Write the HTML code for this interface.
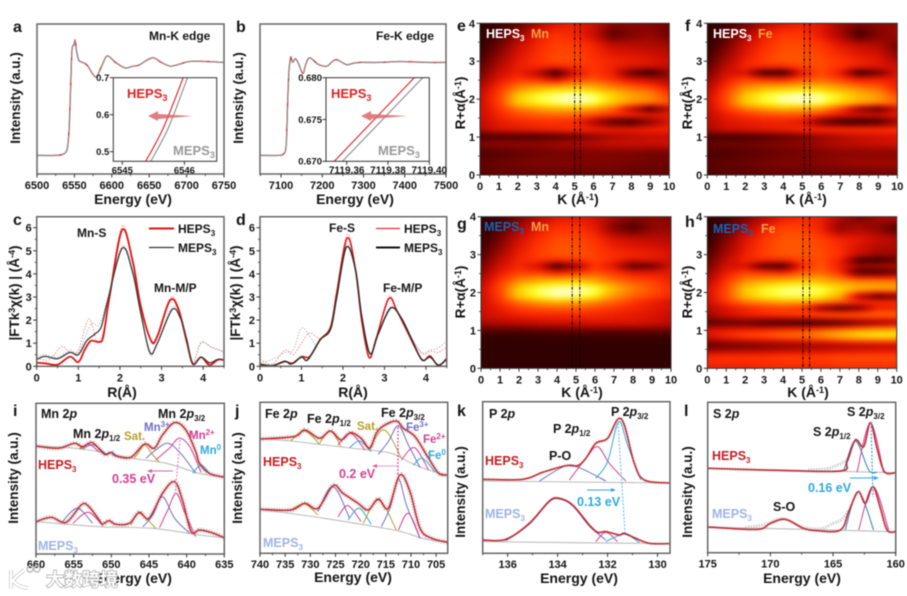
<!DOCTYPE html>
<html><head><meta charset="utf-8"><title>XAS, EXAFS, wavelet and XPS figure</title>
<style>
html,body{margin:0;padding:0;background:#fff;width:907px;height:596px;overflow:hidden}
svg{display:block;filter:blur(.5px)}
text{font-family:"Liberation Sans","Noto Sans CJK SC",sans-serif;font-weight:bold;fill:#151515}
.tick{font-size:11px}
.ti{font-size:14px}
.yt{font-size:13.5px;text-anchor:middle}
.p{font-size:16px}
.n{font-size:12px}
.s{font-size:8px}
.l{font-size:12.5px}
</style></head>
<body>
<svg xmlns="http://www.w3.org/2000/svg" width="907" height="596" viewBox="0 0 907 596">
<defs>
<filter id="heatBlur" x="-5%" y="-5%" width="110%" height="110%" color-interpolation-filters="sRGB"><feGaussianBlur stdDeviation="2.4"/></filter>
</defs>
<g id="marks"></g>

<g>
<text class="p" x="13" y="32">a</text>
<text class="p" x="236" y="32">b</text>
<text class="p" x="13" y="225">c</text>
<text class="p" x="236" y="225">d</text>
<text class="p" x="457" y="31">e</text>
<text class="p" x="685" y="31">f</text>
<text class="p" x="457" y="229">g</text>
<text class="p" x="685" y="227">h</text>
<text class="p" x="13" y="416">i</text>
<text class="p" x="235" y="416">j</text>
<text class="p" x="457" y="416">k</text>
<text class="p" x="684" y="416">l</text>
</g>

<g>
<text class="yt" transform="translate(20,98) rotate(-90)">Intensity (a.u.)</text>
<text class="yt" transform="translate(243,98) rotate(-90)">Intensity (a.u.)</text>
<text class="ti" x="133" y="204" text-anchor="middle">Energy (eV)</text>
<text class="ti" x="355" y="204" text-anchor="middle">Energy (eV)</text>
<text class="yt" transform="translate(19,293) rotate(-90)">|FTk<tspan dy="-4" font-size="9">3</tspan><tspan dy="4">χ(k) | (Å</tspan><tspan dy="-4" font-size="9">-4</tspan><tspan dy="4">)</tspan></text>
<text class="yt" transform="translate(240,293) rotate(-90)">|FTk<tspan dy="-4" font-size="9">3</tspan><tspan dy="4">χ(k) | (Å</tspan><tspan dy="-4" font-size="9">-4</tspan><tspan dy="4">)</tspan></text>
<text class="ti" x="122" y="397" text-anchor="middle">R(Å)</text>
<text class="ti" x="353" y="397" text-anchor="middle">R(Å)</text>
<text class="yt" transform="translate(465,103) rotate(-90)">R+α(Å<tspan dy="-4" font-size="9">-1</tspan><tspan dy="4">)</tspan></text>
<text class="yt" transform="translate(692,103) rotate(-90)">R+α(Å<tspan dy="-4" font-size="9">-1</tspan><tspan dy="4">)</tspan></text>
<text class="yt" transform="translate(465,292) rotate(-90)">R+α(Å<tspan dy="-4" font-size="9">-1</tspan><tspan dy="4">)</tspan></text>
<text class="yt" transform="translate(692,292) rotate(-90)">R+α(Å<tspan dy="-4" font-size="9">-1</tspan><tspan dy="4">)</tspan></text>
<text class="ti" x="578" y="204" text-anchor="middle">K (Å<tspan dy="-4" font-size="9">-1</tspan><tspan dy="4">)</tspan></text>
<text class="ti" x="806" y="204" text-anchor="middle">K (Å<tspan dy="-4" font-size="9">-1</tspan><tspan dy="4">)</tspan></text>
<text class="ti" x="582" y="397" text-anchor="middle">K (Å<tspan dy="-4" font-size="9">-1</tspan><tspan dy="4">)</tspan></text>
<text class="ti" x="808" y="397" text-anchor="middle">K (Å<tspan dy="-4" font-size="9">-1</tspan><tspan dy="4">)</tspan></text>
<text class="yt" transform="translate(18,478) rotate(-90)">Intensity (a.u.)</text>
<text class="yt" transform="translate(242,478) rotate(-90)">Intensity (a.u.)</text>
<text class="yt" transform="translate(465,492) rotate(-90)">Intensity (a.u.)</text>
<text class="yt" transform="translate(692,492) rotate(-90)">Intensity (a.u.)</text>
<text class="ti" x="133" y="583" text-anchor="middle">Energy (eV)</text>
<text class="ti" x="353" y="582" text-anchor="middle">Energy (eV)</text>
<text class="ti" x="579" y="583" text-anchor="middle">Energy (eV)</text>
<text class="ti" x="802" y="583" text-anchor="middle">Energy (eV)</text>
</g>

<g>
<text class="n" x="149" y="40">Mn-K edge</text>
<text class="n" x="376" y="40">Fe-K edge</text>
<text x="127" y="98" font-size="13" style="fill:#e02020">HEPS<tspan dy="3" font-size="9" style="fill:#e02020">3</tspan></text>
<text x="173" y="155" font-size="13" style="fill:#999">MEPS<tspan dy="3" font-size="9" style="fill:#999">3</tspan></text>
<text x="331" y="98" font-size="13" style="fill:#e02020">HEPS<tspan dy="3" font-size="9" style="fill:#e02020">3</tspan></text>
<text x="378" y="155" font-size="13" style="fill:#999">MEPS<tspan dy="3" font-size="9" style="fill:#999">3</tspan></text>
<polygon points="148,116 158,111 158,114 193,116 158,119 158,121" fill="#d9696b" opacity=".85"/>
<polygon points="361,116 371,111 371,114 407,116 371,119 371,121" fill="#d9696b" opacity=".85"/>
<line x1="149" x2="174" y1="228.5" y2="228.5" stroke="#e01515" stroke-width="2"/>
<text class="n" x="178" y="233">HEPS<tspan class="s" dy="3">3</tspan></text>
<line x1="149" x2="174" y1="247.5" y2="247.5" stroke="#333" stroke-width="1.3"/>
<text class="n" x="178" y="252">MEPS<tspan class="s" dy="3">3</tspan></text>
<line x1="376" x2="400" y1="228.5" y2="228.5" stroke="#e03030" stroke-width="1.2"/>
<text class="n" x="404" y="233">HEPS<tspan class="s" dy="3">3</tspan></text>
<line x1="376" x2="400" y1="247.5" y2="247.5" stroke="#111" stroke-width="2"/>
<text class="n" x="404" y="252">MEPS<tspan class="s" dy="3">3</tspan></text>
<text class="n" x="77" y="237">Mn-S</text>
<text class="n" x="154" y="292">Mn-M/P</text>
<text class="n" x="329" y="232">Fe-S</text>
<text class="n" x="383" y="292">Fe-M/P</text>
</g>

<g>
<text x="486" y="38" font-size="12.5" style="fill:#fff">HEPS<tspan dy="3" font-size="8" style="fill:#fff">3</tspan></text>
<text x="531" y="38" font-size="12.5" style="fill:#f2a044">Mn</text>
<text x="713" y="38" font-size="12.5" style="fill:#fff">HEPS<tspan dy="3" font-size="8" style="fill:#fff">3</tspan></text>
<text x="758" y="38" font-size="12.5" style="fill:#f2a044">Fe</text>
<text x="484" y="231" font-size="12.5" style="fill:#1763b4">MEPS<tspan dy="3" font-size="8" style="fill:#1763b4">3</tspan></text>
<text x="531" y="231" font-size="12.5" style="fill:#f2a044">Mn</text>
<text x="713" y="233" font-size="12.5" style="fill:#1763b4">MEPS<tspan dy="3" font-size="8" style="fill:#1763b4">3</tspan></text>
<text x="761" y="233" font-size="12.5" style="fill:#f2a044">Fe</text>
</g>

<g>
<text class="l" x="41" y="418">Mn 2<tspan font-style="italic">p</tspan></text>
<text class="l" x="158" y="418">Mn 2<tspan font-style="italic">p</tspan><tspan class="s" dy="3">3/2</tspan></text>
<text class="l" x="73" y="438">Mn 2<tspan font-style="italic">p</tspan><tspan class="s" dy="3">1/2</tspan></text>
<text x="124" y="440" font-size="11.5" style="fill:#b5a02c">Sat.</text>
<text x="144" y="431" font-size="11.5" style="fill:#6f70c0">Mn<tspan dy="-4" font-size="8" style="fill:#6f70c0">3+</tspan></text>
<text x="189" y="439" font-size="11.5" style="fill:#d2408f">Mn<tspan dy="-4" font-size="8" style="fill:#d2408f">2+</tspan></text>
<text x="200" y="454" font-size="11.5" style="fill:#30a8e0">Mn<tspan dy="-4" font-size="8" style="fill:#30a8e0">0</tspan></text>
<text x="38" y="469" font-size="12.5" style="fill:#c41e22">HEPS<tspan dy="3" font-size="8" style="fill:#c41e22">3</tspan></text>
<text x="38" y="550" font-size="12.5" style="fill:#9fb4e2">MEPS<tspan dy="3" font-size="8" style="fill:#9fb4e2">3</tspan></text>
<text x="112" y="483" font-size="12.5" style="fill:#d2408f">0.35 eV</text>
<line x1="173" x2="150" y1="471" y2="471" stroke="#e0609f"/>
<polygon points="147,471 152,469 152,473" fill="#e0609f"/>
<line x1="180" y1="440" x2="175" y2="495" stroke="#e070a8" stroke-dasharray="2 1.5"/>

<text class="l" x="265" y="418">Fe 2<tspan font-style="italic">p</tspan></text>
<text class="l" x="381" y="417">Fe 2<tspan font-style="italic">p</tspan><tspan class="s" dy="3">3/2</tspan></text>
<text class="l" x="307" y="423">Fe 2<tspan font-style="italic">p</tspan><tspan class="s" dy="3">1/2</tspan></text>
<text x="357" y="430" font-size="11.5" style="fill:#b5a02c">Sat.</text>
<text x="406" y="431" font-size="11.5" style="fill:#6f70c0">Fe<tspan dy="-4" font-size="8" style="fill:#6f70c0">3+</tspan></text>
<text x="423" y="443" font-size="11.5" style="fill:#d2408f">Fe<tspan dy="-4" font-size="8" style="fill:#d2408f">2+</tspan></text>
<text x="428" y="459" font-size="11.5" style="fill:#30a8e0">Fe<tspan dy="-4" font-size="8" style="fill:#30a8e0">0</tspan></text>
<text x="263" y="466" font-size="12.5" style="fill:#c41e22">HEPS<tspan dy="3" font-size="8" style="fill:#c41e22">3</tspan></text>
<text x="263" y="547" font-size="12.5" style="fill:#9fb4e2">MEPS<tspan dy="3" font-size="8" style="fill:#9fb4e2">3</tspan></text>
<text x="339" y="478" font-size="12.5" style="fill:#d2408f">0.2 eV</text>
<line x1="398" x2="375" y1="466" y2="466" stroke="#e8a0c8"/>
<polygon points="372,466 377,464 377,468" fill="#e0609f"/>
<line x1="398" y1="427" x2="398" y2="475" stroke="#d2408f" stroke-dasharray="2 1.5" stroke-width="1.2"/>

<text class="l" x="489" y="418">P 2<tspan font-style="italic">p</tspan></text>
<text class="l" x="611" y="416">P 2<tspan font-style="italic">p</tspan><tspan class="s" dy="3">3/2</tspan></text>
<text class="l" x="553" y="433">P 2<tspan font-style="italic">p</tspan><tspan class="s" dy="3">1/2</tspan></text>
<text class="l" x="549" y="460">P-O</text>
<text x="485" y="465" font-size="12.5" style="fill:#c41e22">HEPS<tspan dy="3" font-size="8" style="fill:#c41e22">3</tspan></text>
<text x="485" y="518" font-size="12.5" style="fill:#9fb4e2">MEPS<tspan dy="3" font-size="8" style="fill:#9fb4e2">3</tspan></text>
<text x="577" y="506" font-size="12.5" style="fill:#30a8e0">0.13 eV</text>
<line x1="587" x2="613" y1="490" y2="490" stroke="#30a8e0"/>
<polygon points="616,490 611,488 611,492" fill="#30a8e0"/>
<line x1="618" y1="423" x2="625" y2="533" stroke="#60bfe8" stroke-dasharray="2 1.5" stroke-width="1.1"/>

<text class="l" x="713" y="418">S 2<tspan font-style="italic">p</tspan></text>
<text class="l" x="847" y="416">S 2<tspan font-style="italic">p</tspan><tspan class="s" dy="3">3/2</tspan></text>
<text class="l" x="813" y="436">S 2<tspan font-style="italic">p</tspan><tspan class="s" dy="3">1/2</tspan></text>
<text class="l" x="773" y="511">S-O</text>
<text x="712" y="460" font-size="12.5" style="fill:#c41e22">HEPS<tspan dy="3" font-size="8" style="fill:#c41e22">3</tspan></text>
<text x="712" y="518" font-size="12.5" style="fill:#9fb4e2">MEPS<tspan dy="3" font-size="8" style="fill:#9fb4e2">3</tspan></text>
<text x="808" y="492" font-size="12.5" style="fill:#30a8e0">0.16 eV</text>
<line x1="850" x2="876" y1="478" y2="478" stroke="#30a8e0"/>
<polygon points="879,478 874,476 874,480" fill="#30a8e0"/>
<line x1="871" y1="423" x2="873" y2="497" stroke="#30a8e0" stroke-dasharray="2 1.5" stroke-width="1.2"/>
</g>

<g>
<path d="M11 570 V589 M24 570 Q14 578 13 581 Q18 587 28 588" fill="none" stroke="#aaa" stroke-width="3.6"/>
<path d="M11 570 V589 M24 570 Q14 578 13 581 Q18 587 28 588" fill="none" stroke="#fff" stroke-width="2.6"/>
<circle cx="30" cy="569" r="3" fill="none" stroke="#bbb" stroke-width="1.4"/>
<circle cx="37" cy="569" r="3" fill="none" stroke="#bbb" stroke-width="1.4"/>
<text x="46" y="586" font-size="18" style="font-family:'Noto Sans CJK SC',sans-serif;fill:#fff;stroke:#999;stroke-width:1.2;paint-order:stroke">大数跨境</text>
</g>
</svg>

<script>
/* ---------- tick arrays ---------- */
const aXTicks=[6500,6550,6600,6650,6700,6750];
const bXTicks=[7100,7200,7300,7400,7500];
const rXTicks=[0,1,2,3,4];
const ftYTicks=[0,1,2,3,4,5,6];
const kXTicks=[0,1,2,3,4,5,6,7,8,9,10];
const rYTicks=[0,1,2,3,4];
const iXTicks=[660,655,650,645,640,635];
const jXTicks=[740,735,730,725,720,715,710,705];
const kpXTicks=[136,134,132,130];
const lXTicks=[175,170,165,160];
const aInsetXTicks=[6545,6546];
const aInsetYTicks=[0.5,0.6,0.7];
const bInsetXTicks=[7119.36,7119.38,7119.40];
const bInsetYTicks=[0.670,0.675,0.680];

/* ---------- XANES ---------- */
const aMn=[[6500,0],[6525,0],[6534,0.01],[6539,0.04],[6541,0.1],[6543,0.3],[6545,0.75],[6546.5,1.1],[6548,1.18],[6549.5,1.19],[6551,1.24],[6553,1.12],[6556,1.02],[6561,1.0],[6567,0.97],[6575,0.87],[6580,0.85],[6587,0.97],[6594,1.07],[6605,1.0],[6618,0.94],[6628,0.96],[6636,0.97],[6654,1.05],[6666,1.0],[6678,0.96],[6690,0.98],[6704,1.01],[6725,1.01],[6750,1.0]];
const bFe=[[7050,0],[7095,0],[7104,0.01],[7110,0.04],[7113,0.15],[7116,0.55],[7119,0.9],[7122,1.02],[7124,1.06],[7128,1.0],[7135,1.04],[7143,0.98],[7153,0.88],[7160,0.98],[7170,1.05],[7190,0.98],[7211,0.96],[7222,1.0],[7234,1.03],[7248,1.0],[7260,0.975],[7275,0.99],[7292,1.0],[7340,1.0],[7390,1.01],[7450,1.0],[7500,1.0]];
const aInsetHeps=[[6545.377,0.474],[6545.66,0.564],[6545.98,0.70]];
const aInsetMeps=[[6545.458,0.474],[6545.74,0.564],[6546.05,0.70]];
const bInsetHeps=[[7119.354,0.670],[7119.3927,0.680]];
const bInsetMeps=[[7119.358,0.670],[7119.3968,0.680]];

/* ---------- EXAFS ---------- */
const cHeps=[[0,.15],[.2,.13],[.5,.07],[.8,.42],[1,.18],[1.15,.7],[1.3,1.1],[1.5,1.05],[1.6,1.3],[1.75,3],[2.05,5.9],[2.3,4.6],[2.5,2.6],[2.75,1.1],[2.9,1.3],[3.2,2.85],[3.4,2.5],[3.6,1.1],[3.75,.1],[3.95,.4],[4.15,.05],[4.35,.28],[4.5,.27]];
const cMeps=[[0,.3],[.2,.43],[.5,.33],[.8,.6],[1,.5],[1.2,1.1],[1.4,1.4],[1.55,1.7],[1.7,2.8],[2.05,5.1],[2.3,4.1],[2.5,2.3],[2.72,.6],[2.9,1],[3.25,2.45],[3.45,2.1],[3.6,1.2],[3.75,.12],[3.95,.4],[4.15,.15],[4.35,.3],[4.5,.27]];
const cHepsFit=[[0,.35],[.3,.3],[.6,.85],[.8,.6],[1,.7],[1.25,2.05],[1.45,1.1],[1.6,1.5],[1.75,3.1],[2.05,6.05],[2.3,4.7],[2.5,2.7],[2.75,1.15],[2.9,1.4],[3.2,2.95],[3.4,2.6],[3.6,1.2],[3.75,.15],[3.95,1],[4.2,.85],[4.5,.6]];
const cMepsFit=[[0,.4],[.2,.5],[.5,.4],[.8,.7],[1,.6],[1.3,1.8],[1.5,1.8],[1.7,2.9],[2.05,5.2],[2.3,4.2],[2.5,2.4],[2.72,.5],[2.9,1.05],[3.25,2.55],[3.45,2.2],[3.6,1.25],[3.75,.15],[3.95,1.05],[4.2,.8],[4.5,.65]];
const dHeps=[[0,.05],[.3,.02],[.6,.2],[.8,.13],[1,.42],[1.2,.42],[1.45,1.15],[1.7,1.7],[1.85,3.2],[2.1,5.55],[2.3,4.2],[2.45,2],[2.63,.38],[2.8,1.2],[3.1,2.92],[3.3,2.4],[3.55,1.5],[3.9,.3],[4.1,.45],[4.3,.02],[4.5,.35]];
const dMeps=[[0,.1],[.3,.03],[.6,.22],[.75,.1],[1,.4],[1.15,.28],[1.45,1.15],[1.7,1.6],[1.85,3],[2.08,5.15],[2.3,4.2],[2.45,2.2],[2.65,.55],[2.85,1.4],[3.15,2.52],[3.4,2.1],[3.65,1.2],[3.9,.28],[4.1,.4],[4.3,.05],[4.5,.3]];
const dHepsFit=[[0,.3],[.3,.1],[.6,.7],[.8,.5],[1,1],[1.2,1.45],[1.45,1.2],[1.7,1.7],[1.85,3.3],[2.1,5.7],[2.3,4.3],[2.45,2.1],[2.63,.4],[2.8,1.25],[3.1,3],[3.3,2.45],[3.55,1.5],[3.9,.55],[4.1,.65],[4.3,.6],[4.5,.85]];
const dMepsFit=[[0,.15],[.3,.3],[.6,.6],[.8,.7],[1,1.65],[1.2,1.3],[1.35,.9],[1.45,1.2],[1.7,1.6],[1.85,3],[2.08,5.25],[2.3,4.3],[2.45,2.3],[2.65,.5],[2.85,1.45],[3.15,2.6],[3.4,2.15],[3.65,1.25],[3.9,.6],[4.1,.7],[4.3,.8],[4.5,1.1]];

/* ---------- wavelet grids: intensity percent, rows by heatRows, columns by kXTicks ---------- */
const heatRows=[4,3.7,3.4,3,2.85,2.7,2.55,2.3,2.1,1.9,1.75,1.6,1.4,1.2,1,.85,.6,.3,0];
const heatE=[[8,12,20,35,45,50,42,30,30,28,25],[10,18,32,48,55,52,42,20,28,32,24],[12,25,42,52,58,58,52,42,40,38,35],[18,35,48,55,60,60,55,52,50,48,42],[22,38,50,52,50,54,56,50,45,42,40],[25,42,50,40,12,45,56,50,22,10,32],[30,46,54,50,38,54,60,52,42,38,34],[38,54,70,78,82,84,80,72,66,60,48],[42,58,84,93,97,99,96,87,78,73,58],[42,58,84,91,95,97,95,84,74,68,62],[42,55,68,76,80,80,76,64,38,14,38],[42,52,60,64,66,66,62,58,55,50,50],[40,48,52,54,54,52,34,16,12,28,45],[38,46,48,50,52,54,52,50,50,52,52],[14,14,14,14,16,20,28,34,38,40,40],[30,33,33,33,36,38,40,44,44,44,46],[18,20,22,24,26,26,28,28,28,26,26],[22,24,26,28,28,28,28,28,26,25,24],[20,22,22,22,22,22,22,22,22,22,22]];
const heatF=[[8,14,25,38,46,50,46,35,28,30,32],[10,20,35,50,56,56,48,35,16,28,34],[12,26,44,54,60,60,56,48,42,38,25],[18,36,50,58,62,62,60,56,52,48,36],[22,40,52,52,52,58,60,55,48,46,44],[26,44,44,12,12,48,60,48,12,22,46],[30,48,56,50,48,58,62,56,46,48,48],[38,56,72,80,82,84,82,76,70,64,50],[42,60,84,93,97,99,97,90,82,76,60],[42,60,84,91,96,97,95,86,78,72,65],[42,56,68,76,80,78,74,58,28,18,42],[40,50,56,60,62,62,58,50,48,46,50],[38,46,48,50,50,46,22,12,10,14,32],[36,44,46,48,50,54,56,56,56,56,56],[14,14,14,16,20,24,30,36,40,42,44],[24,26,26,28,30,32,36,40,42,44,46],[18,18,20,22,24,26,28,30,30,30,30],[20,22,24,26,28,28,30,32,34,34,34],[18,20,20,22,22,22,22,22,22,24,24]];
const heatG=[[8,14,25,38,46,48,44,35,30,32,30],[10,20,35,48,55,55,48,28,18,30,32],[12,26,44,54,60,60,55,46,42,40,38],[18,36,50,58,62,62,58,54,52,50,46],[22,40,52,54,52,55,58,52,45,46,44],[26,44,52,44,14,32,55,45,18,22,44],[30,48,56,54,46,52,60,54,46,46,48],[38,56,72,80,84,84,78,68,62,58,50],[42,60,86,95,98,99,96,82,70,62,54],[42,58,84,93,97,96,90,74,64,58,52],[42,54,68,76,80,78,72,64,56,50,44],[42,50,58,62,64,64,60,56,52,48,46],[42,46,50,52,52,52,52,50,48,46,40],[36,38,40,42,44,44,46,46,46,44,40],[20,20,20,22,22,24,24,24,24,24,24],[12,12,12,13,14,14,14,14,14,14,14],[10,10,10,10,10,10,10,10,10,10,10],[10,10,10,10,10,10,10,10,10,10,10],[10,10,10,10,10,10,10,10,10,10,10]];
const heatH=[[8,14,25,38,48,52,50,38,26,35,40],[10,20,36,50,58,58,50,30,36,30,18],[12,28,46,56,62,62,58,52,48,42,38],[18,36,50,58,62,62,60,55,42,34,34],[22,40,52,52,52,58,60,50,16,12,22],[26,44,44,16,14,52,62,50,36,38,40],[30,48,56,52,48,60,64,52,16,14,22],[38,56,72,78,82,84,80,74,70,70,68],[44,60,84,92,96,97,95,88,82,80,80],[44,60,82,90,94,94,90,78,36,18,24],[42,56,68,74,78,78,72,64,56,54,54],[38,46,52,56,58,54,28,16,24,48,50],[34,44,50,54,56,60,66,68,68,68,66],[20,20,22,16,14,12,12,16,24,30,34],[46,50,52,54,58,60,66,72,78,82,84],[46,54,60,62,66,68,74,82,88,90,90],[20,22,24,26,28,30,32,34,36,38,38],[54,56,56,56,58,58,58,60,60,60,60],[50,50,50,52,52,52,52,54,54,54,54]];
const eGuides=[5.0,5.3];
const fGuides=[5.1,5.4];
const gGuides=[4.8,5.2];
const hGuides=[5.05,5.4];

/* ---------- XPS Mn 2p ---------- */
const iHepsFit=[[660,324],[657.1,317],[654.9,332],[653.8,322],[652.5,334],[650.9,299],[650,305],[649.4,294],[647.4,290],[645.6,330],[644.3,317],[643.2,357],[641.6,394],[640.1,372],[638.8,307],[638.3,272],[637,242],[635,230]];
const iHepsBg=[[660,324],[653.8,315],[647.2,287],[642.7,272],[638.3,242],[635,230]];
const iHepsSat1=[[656.5,317],[654.9,332],[653.6,312]];
const iHepsSat2=[[647,287],[646.5,300],[645.6,327],[644.6,300],[643.6,275]];
const iHepsMn3=[[653.8,317],[652.3,327],[650.7,299]];
const iHepsMn2=[[654.2,315],[653,329],[651.6,305]];
const iHepsMn0=[[650.9,297],[650,305],[649.2,294]];
const iHepsMn3b=[[645.4,287],[644.1,312],[642.5,332],[640.8,302],[638.8,242]];
const iHepsMn2b=[[644.1,282],[642.3,317],[641,347],[639.6,322],[638.1,245]];
const iHepsMn0b=[[639.2,242],[638.1,267],[637,242]];
const iMepsFit=[[660,97],[658,110],[656,95],[654,147],[653.1,145],[651.6,102],[651.2,89],[650.3,100],[649.4,89],[647.6,92],[646.3,125],[645,107],[643.2,182],[641.6,217],[640.5,157],[639.4,67],[638.3,72],[636.8,65],[635,49]];
const iMepsBg=[[660,97],[651.6,82],[644.5,77],[638.3,57],[635,49]];
const iMepsSat=[[647.4,87],[646.3,122],[644.1,77]];
const iMepsMn3=[[656.5,97],[654.5,137],[652.5,92]];
const iMepsMn2=[[655.1,92],[653.1,125],[651.2,87]];
const iMepsMn3b=[[645.8,82],[644.5,117],[643.2,172],[641.6,107],[639.6,62]];
const iMepsMn2b=[[643.6,79],[642.5,132],[641.4,182],[640.3,127],[638.8,52]];

/* ---------- XPS Fe 2p ---------- */
const jHepsFit=[[740,343],[733.2,350],[731.1,370],[728.2,345],[726,367],[723.9,340],[722,362],[719.9,345],[718.2,315],[716.9,360],[715.5,382],[712.9,397],[711.5,375],[709.2,350],[706.5,285],[704.5,240],[702.7,235]];
const jHepsBg=[[740,345],[733.9,337],[727.2,325],[718.5,310],[713.9,300],[709.9,270],[706.5,250],[702.7,235]];
const jHepsSat1=[[733.9,337],[731.1,367],[728.2,327]];
const jHepsSat2=[[728.2,330],[726,367],[723.9,320]];
const jHepsSat3=[[718.5,310],[715.3,370],[711.9,285]];
const jHepsFe2a=[[724.5,325],[722,360],[719.2,310]];
const jHepsFe0a=[[722.2,317],[720.2,337],[717.9,305]];
const jHepsFe3=[[716.5,297],[714.5,335],[712.5,383],[710.5,325],[708.2,257]];
const jHepsFe2=[[711.9,280],[709.3,317],[706.5,250]];
const jHepsFe0=[[709.5,265],[707.7,285],[705.2,243]];
const jMepsFit=[[740,132],[733.9,130],[731.1,150],[728.5,135],[725.5,203],[723.5,180],[720.5,150],[718.5,130],[716.5,163],[714.5,135],[712.2,235],[710.2,185],[708.2,75],[705.9,45],[702.7,33]];
const jMepsBg=[[740,132],[727.2,105],[717.2,80],[711.9,65],[707.2,43],[702.7,33]];
const jMepsSat1=[[733.9,130],[731.1,148],[728.5,115]];
const jMepsSat2=[[719.5,90],[716.4,160],[712.9,70]];
const jMepsFe3a=[[728.5,125],[725.5,200],[722.2,105]];
const jMepsFe2a=[[724.5,110],[722.5,143],[719.9,95]];
const jMepsFe0a=[[722.5,100],[720.3,135],[717.9,87]];
const jMepsFe3=[[715.9,80],[714.2,135],[712.5,222],[710.9,145],[708.2,45]];
const jMepsFe2=[[712.5,70],[710.5,120],[708.2,45]];

/* ---------- XPS P 2p ---------- */
const kHepsFit=[[137,222],[135.4,222],[134.6,243],[133.67,263],[133.2,263],[132.87,285],[132.47,330],[132,345],[131.6,402],[131.33,385],[130.93,270],[130.53,220],[129.53,211]];
const kHepsBg=[[137,217],[129.53,211]];
const kHepsPO=[[134.73,217],[133.67,263],[133.07,255],[132.07,217]];
const kHeps12=[[133.53,220],[132.87,285],[132.4,320],[131.93,270],[131.27,217]];
const kHeps32=[[132.47,225],[132,275],[131.56,395],[131.2,325],[130.67,220]];
const kMepsFit=[[137,40],[136.07,42],[135.13,90],[134.33,157],[133.93,165],[133.4,145],[132.73,85],[132.4,63],[132.07,65],[131.53,55],[131.33,60],[130.87,45],[130.33,30],[129.53,29]];
const kMepsBg=[[137,35],[129.53,29]];
const kMepsPO=[[136.07,38],[135.13,88],[134.33,155],[133.93,163],[133.4,143],[132.73,82],[132.07,40]];
const kMeps12=[[132.47,35],[132.07,63],[131.6,35]];
const kMeps32=[[132.07,35],[131.33,57],[130.73,33]];

/* ---------- XPS S 2p ---------- */
const lHepsRaw=[[167,249],[165.5,252],[164.7,262],[164.15,272],[163.8,282]];
const lHepsFit=[[175,253],[169.47,247],[164.41,245],[163.88,273],[163.22,338],[162.55,318],[162.02,390],[161.49,313],[160.9,243],[160,240]];
const lHepsBg=[[175,253],[160,240]];
const lHeps12=[[164.15,245],[163.22,335],[162.15,248],[161.49,241]];
const lHeps32=[[163.09,241],[162.02,388],[160.96,241]];
const lMepsRaw=[[172,76],[170.5,84],[169,103],[167.5,78],[166,72],[165,88],[164.3,100],[163.8,125]];
const lMepsFit=[[175,77],[171.06,70],[170,88],[168.8,100],[167.34,73],[166.28,66],[164.41,68],[163.75,123],[163,183],[162.42,148],[161.81,198],[161.22,133],[160.69,68],[160,63]];
const lMepsBg=[[175,77],[160,63]];
const lMeps12=[[164.02,68],[163,183],[161.76,68]];
const lMeps32=[[162.95,68],[161.81,198],[160.56,68]];

/* ---------- helpers ---------- */
const NS='http://www.w3.org/2000/svg';
const root=document.getElementById('marks');
function mk(parent,tag,attrs,name){
  const el=document.createElementNS(NS,tag);
  for(const k in attrs){el.setAttribute(k,attrs[k]);}
  
  
  parent.appendChild(el);
  return el;
}
function scale(d0,d1,r0,r1){return v=>r0+(v-d0)*(r1-r0)/(d1-d0);}
function pathOf(pts,sx,sy){
  const p=pts.map(q=>[sx(q[0]),sy(q[1])]);
  let d='M'+p[0][0].toFixed(1)+' '+p[0][1].toFixed(1);
  for(let i=0;i<p.length-1;i++){
    const a=p[Math.max(i-1,0)],b=p[i],c=p[i+1],e=p[Math.min(i+2,p.length-1)];
    const c1=[b[0]+(c[0]-a[0])/6,b[1]+(c[1]-a[1])/6];
    const c2=[c[0]-(e[0]-b[0])/6,c[1]-(e[1]-b[1])/6];
    d+='C'+c1[0].toFixed(1)+' '+c1[1].toFixed(1)+' '+c2[0].toFixed(1)+' '+c2[1].toFixed(1)+' '+c[0].toFixed(1)+' '+c[1].toFixed(1);
  }
  return d;
}
function line(pn,pts,stroke,width,name,dash,op){
  const a={d:pathOf(pts,pn.x,pn.y),fill:'none',stroke:stroke,'stroke-width':width,'stroke-linejoin':'round'};
  if(dash){a['stroke-dasharray']=dash;}
  if(op){a.opacity=op;}
  return mk(pn.g,'path',a,name);
}
function panel(name,box,xd,yd){
  const g=mk(root,'g',{},name);
  const x=scale(xd[0],xd[1],box[0],box[2]);
  const y=scale(yd[0],yd[1],box[3],box[1]);
  return {g:g,x:x,y:y,box:box,xd:xd,yd:yd,name:name};
}
function minors(ticks,dom){
  const out=[];
  if(ticks.length<2)return out;
  const st=ticks[1]-ticks[0];
  const lo=Math.min(dom[0],dom[1]),hi=Math.max(dom[0],dom[1]);
  for(let i=-3;i<ticks.length+3;i++){
    const v=ticks[0]+st*(i+.5);
    if(v>=lo-1e-9&&v<=hi+1e-9)out.push(v);
  }
  return out;
}
function axes(pn,xt,yt,o){
  o=o||{};
  const b=pn.box,col=o.col||'#666',tc=o.tc||'#333',fs=o.fs||11,fsx=o.fsx||fs;
  mk(pn.g,'rect',{x:b[0],y:b[1],width:b[2]-b[0],height:b[3]-b[1],fill:'none',stroke:col,'stroke-width':o.w||1.5},pn.name+'-frame');
  xt.forEach(v=>{
    mk(pn.g,'line',{x1:pn.x(v),x2:pn.x(v),y1:b[3],y2:b[3]+3.5,stroke:tc,'stroke-width':1},pn.name+'-x-tick');
    const t=mk(pn.g,'text',{x:pn.x(v),y:b[3]+(o.xd||15),'text-anchor':'middle','font-size':fsx},pn.name+'-x-tick-label');
    t.textContent=o.fx?o.fx(v):v;
  });
  if(!o.noMinor)minors(xt,pn.xd).forEach(v=>{
    mk(pn.g,'line',{x1:pn.x(v),x2:pn.x(v),y1:b[3],y2:b[3]+2,stroke:tc,'stroke-width':.8},pn.name+'-x-minor-tick');
  });
  yt.forEach(v=>{
    mk(pn.g,'line',{x1:b[0],x2:b[0]-3.5,y1:pn.y(v),y2:pn.y(v),stroke:tc,'stroke-width':1},pn.name+'-y-tick');
    const t=mk(pn.g,'text',{x:b[0]-(o.yd||5),y:pn.y(v)+fs*.36,'text-anchor':'end','font-size':fs},pn.name+'-y-tick-label');
    t.textContent=o.fy?o.fy(v):v;
  });
  if(!o.noMinor&&yt.length)minors(yt,pn.yd).forEach(v=>{
    mk(pn.g,'line',{x1:b[0],x2:b[0]-2,y1:pn.y(v),y2:pn.y(v),stroke:tc,'stroke-width':.8},pn.name+'-y-minor-tick');
  });
}
const heatStops=[[0,26,0,0],[15,61,0,0],[30,138,5,0],[45,216,17,0],[55,255,48,0],[70,255,128,0],[85,255,208,0],[93,255,255,48],[100,255,255,255]];
function heatColor(v){
  v=Math.max(0,Math.min(100,v));
  for(let i=0;i<heatStops.length-1;i++){
    const a=heatStops[i],b=heatStops[i+1];
    if(v<=b[0]){
      const t=(v-a[0])/(b[0]-a[0]);
      return 'rgb('+[1,2,3].map(c=>Math.round(a[c]+(b[c]-a[c])*t)).join(',')+')';
    }
  }
  return '#fff';
}
function heatVal(grid,k,r){
  k=Math.max(0,Math.min(10,k));
  r=Math.max(0,Math.min(4,r));
  let i=0;
  while(i<heatRows.length-2&&r<heatRows[i+1])i++;
  const tr=(heatRows[i]-r)/(heatRows[i]-heatRows[i+1]);
  const c=Math.min(9,Math.floor(k));
  const tk=k-c;
  const top=grid[i][c]*(1-tk)+grid[i][c+1]*tk;
  const bot=grid[i+1][c]*(1-tk)+grid[i+1][c+1]*tk;
  return top*(1-tr)+bot*tr;
}
let clipN=0;
function heatPanel(name,box,grid,guides){
  const pn=panel(name,box,[0,10],[0,4]);
  const id='clip'+(clipN++);
  const cp=mk(pn.g,'clipPath',{id:id},name+'-clip');
  mk(cp,'rect',{x:box[0],y:box[1],width:box[2]-box[0],height:box[3]-box[1]},name+'-clip-rect');
  const outer=mk(pn.g,'g',{'clip-path':'url(#'+id+')'},name+'-heatmap');
  const inner=mk(outer,'g',{filter:'url(#heatBlur)'},name+'-cells');
  const ik=scale(box[0],box[2],0,10),ir=scale(box[3],box[1],0,4);
  for(let px=box[0]-9;px<box[2]+9;px+=3){
    for(let py=box[1]-9;py<box[3]+9;py+=3){
      mk(inner,'rect',{x:px,y:py,width:3.4,height:3.4,fill:heatColor(heatVal(grid,ik(px+1.5),ir(py+1.5)))},'heat-cell');
    }
  }
  guides.forEach(k=>{
    mk(pn.g,'line',{x1:pn.x(k),x2:pn.x(k),y1:box[1],y2:box[3],stroke:'#000','stroke-width':1,'stroke-dasharray':'3 1.5 1 1.5'},name+'-guide-line');
  });
  axes(pn,kXTicks,rYTicks,{col:'#333',w:1,xd:15,yd:5});
  return pn;
}

/* ---------- a, b ---------- */
const pa=panel('panel-a',[37,24,224,174],[6500,6750],[-0.2,1.413]);
line(pa,aMn,'#e02020',1.3,'a-heps-curve');
line(pa,aMn,'#8e8e8e',1.2,'a-meps-curve','22 3');
axes(pa,aXTicks,[],{});
const pai=panel('a-inset',[113.3,77.7,216.7,161.3],[6544.855,6546.52],[0.474,0.7]);
mk(pai.g,'rect',{x:113.3,y:77.7,width:103.4,height:83.6,fill:'#fff'},'a-inset-background');
line(pai,aInsetHeps,'#e02020',1.1,'a-inset-heps-curve');
line(pai,aInsetMeps,'#8a8a8a',1.1,'a-inset-meps-curve');
axes(pai,aInsetXTicks,aInsetYTicks,{col:'#333',w:1,fs:9.5,xd:12,yd:4,noMinor:true});

const pb=panel('panel-b',[260,24,446,174],[7049,7500],[-0.2,1.413]);
line(pb,bFe,'#e02020',1.3,'b-heps-curve');
line(pb,bFe,'#8e8e8e',1.2,'b-meps-curve','22 3');
axes(pb,bXTicks,[],{});
const pbi=panel('b-inset',[326,77.7,429.3,161.3],[7119.35,7119.40],[0.670,0.680]);
mk(pbi.g,'rect',{x:326,y:77.7,width:103.3,height:83.6,fill:'#fff'},'b-inset-background');
line(pbi,bInsetHeps,'#e02020',1.1,'b-inset-heps-curve');
line(pbi,bInsetMeps,'#8a8a8a',1.1,'b-inset-meps-curve');
axes(pbi,bInsetXTicks,bInsetYTicks,{col:'#333',w:1,fs:9.5,fsx:10,xd:12,yd:4,noMinor:true,fx:v=>v.toFixed(2),fy:v=>v.toFixed(3)});

/* ---------- c, d ---------- */
const pc=panel('panel-c',[36.7,216.7,224,366.3],[0,4.5],[0,6.476]);
line(pc,cHepsFit,'#f08080',.9,'c-heps-fit-curve','1.5 1.5');
line(pc,cMepsFit,'#b0b0b0',.9,'c-meps-fit-curve','1.5 1.5');
line(pc,cHeps,'#e01515',1.8,'c-heps-curve');
line(pc,cMeps,'#3a3a3a',1.3,'c-meps-curve');
axes(pc,rXTicks,ftYTicks,{xd:15,yd:5});
const pd=panel('panel-d',[260,216.7,446.7,366.3],[0,4.5],[0,6.476]);
line(pd,dHepsFit,'#f08080',.9,'d-heps-fit-curve','1.5 1.5');
line(pd,dMepsFit,'#b0b0b0',.9,'d-meps-fit-curve','1.5 1.5');
line(pd,dHeps,'#e01515',1.5,'d-heps-curve');
line(pd,dMeps,'#2a2a2a',1.4,'d-meps-curve');
axes(pd,rXTicks,ftYTicks,{xd:15,yd:5});

/* ---------- e-h ---------- */
heatPanel('panel-e',[480,23.3,669.3,175],heatE,eGuides);
heatPanel('panel-f',[707.3,23.3,897.3,175],heatF,fGuides);
heatPanel('panel-g',[481,216.7,671,368.3],heatG,gGuides);
heatPanel('panel-h',[707.3,216.7,896.7,368.3],heatH,hGuides);

/* ---------- i-l ---------- */
const OL='#b5a02c',BL='#6f70c0',MG='#d2408f',CY='#30a8e0',GR='#bdbdbd',FIT='#c8202a',RAW='#cfcfcf';
function raw(pn,pts,w){line(pn,pts,RAW,w,pn.name+'-raw-data','1.5 1.2');}

const pi=panel('panel-i',[36,403.3,224.3,554],[660,635],[0,452]);
raw(pi,iHepsFit,5);raw(pi,iMepsFit,5);
line(pi,iHepsBg,GR,1.1,'i-heps-background');line(pi,iMepsBg,GR,1.1,'i-meps-background');
[[iHepsSat1,OL],[iHepsSat2,OL],[iHepsMn3,BL],[iHepsMn2,MG],[iHepsMn0,CY],[iHepsMn3b,BL],[iHepsMn2b,MG],[iHepsMn0b,CY],[iMepsSat,OL],[iMepsMn3,BL],[iMepsMn2,MG],[iMepsMn3b,BL],[iMepsMn2b,MG]].forEach(c=>line(pi,c[0],c[1],1,'i-component-peak'));
line(pi,iHepsFit,FIT,1.4,'i-heps-fit');line(pi,iMepsFit,FIT,1.4,'i-meps-fit');
axes(pi,iXTicks,[],{xd:14});

const pj=panel('panel-j',[260,402.3,447.7,553.3],[740,702.7],[0,453]);
raw(pj,jHepsFit,5);raw(pj,jMepsFit,5);
line(pj,jHepsBg,GR,1.1,'j-heps-background');line(pj,jMepsBg,GR,1.1,'j-meps-background');
[[jHepsSat1,OL],[jHepsSat2,OL],[jHepsSat3,OL],[jHepsFe2a,MG],[jHepsFe0a,CY],[jHepsFe3,BL],[jHepsFe2,MG],[jHepsFe0,CY],[jMepsSat1,OL],[jMepsSat2,OL],[jMepsFe3a,BL],[jMepsFe2a,MG],[jMepsFe0a,CY],[jMepsFe3,BL],[jMepsFe2,MG]].forEach(c=>line(pj,c[0],c[1],1,'j-component-peak'));
line(pj,jHepsFit,FIT,1.4,'j-heps-fit');line(pj,jMepsFit,FIT,1.4,'j-meps-fit');
axes(pj,jXTicks,[],{xd:14.5});

const pk=panel('panel-k',[482.7,401.7,670,553.3],[137,129.5],[0,455]);
raw(pk,kHepsFit,3);raw(pk,kMepsFit,3);
line(pk,kHepsBg,GR,1.1,'k-heps-background');line(pk,kMepsBg,GR,1.1,'k-meps-background');
[[kHepsPO,BL],[kHeps12,MG],[kHeps32,CY],[kMepsPO,BL],[kMeps12,MG],[kMeps32,CY]].forEach(c=>line(pk,c[0],c[1],1,'k-component-peak'));
line(pk,kHepsFit,FIT,1.4,'k-heps-fit');line(pk,kMepsFit,FIT,1.4,'k-meps-fit');
axes(pk,kpXTicks,[],{xd:14.5});

const pl=panel('panel-l',[707.7,402.3,895.7,552.7],[175,160],[0,451]);
raw(pl,lHepsFit,3);raw(pl,lMepsFit,3);raw(pl,lHepsRaw,3);raw(pl,lMepsRaw,3);
line(pl,lHepsBg,GR,1.1,'l-heps-background');line(pl,lMepsBg,GR,1.1,'l-meps-background');
[[lHeps12,'#3080b0'],[lHeps32,MG],[lMeps12,'#3080b0'],[lMeps32,MG]].forEach(c=>line(pl,c[0],c[1],1,'l-component-peak'));
line(pl,lHepsFit,FIT,1.4,'l-heps-fit');line(pl,lMepsFit,FIT,1.4,'l-meps-fit');
axes(pl,lXTicks,[],{xd:15});
</script>
</body></html>
